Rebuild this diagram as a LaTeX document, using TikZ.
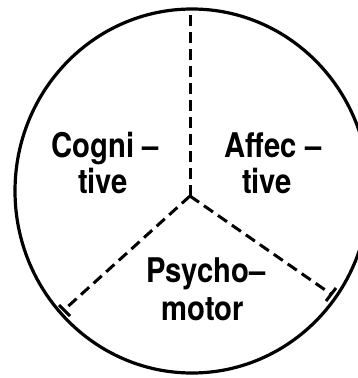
\documentclass[tikz,border=0pt]{standalone}
\usepackage{fontspec}
\setmainfont{TeX Gyre Heros}
\begin{document}
\begin{tikzpicture}[x=1pt,y=-1pt,
  ringline/.style={line width=3.2pt},
  divider/.style={line width=3pt, dash pattern=on 11pt off 6pt, line join=round},
  endtick/.style={line width=3pt},
  lbl/.style={font=\fontsize{34}{36}\selectfont\bfseries, inner sep=0pt, anchor=base, xscale=0.86}]
\useasboundingbox (0,0) rectangle (358,378);
\clip (0,0) rectangle (358,378);
\fill[white] (0,0) rectangle (358,378);
% outer circle
\draw[ringline] (192,191) ellipse [x radius=177, y radius=182];
% junction and ends
\coordinate (ctr) at (190,196);
\coordinate (topend) at (190,10);
\coordinate (leftend) at (64,310);
\coordinate (rightend) at (331,294);
\coordinate (lt1) at (70,316);
\coordinate (lt2) at (59,305);
\coordinate (rt1) at (326,301);
\coordinate (rt2) at (336,288);
% dashed dividers
\draw[divider] (ctr) -- (topend);
\draw[divider] (ctr) -- (leftend);
\draw[divider] (ctr) -- (rightend);
\draw[endtick] (lt1) -- (lt2);
\draw[endtick] (rt1) -- (rt2);
% labels
\node[lbl] (cog1) at (105,157) {Cogni --};
\node[lbl] (cog2) at (103,193) {tive};
\node[lbl] (aff1) at (273,157) {Affec --};
\node[lbl] (aff2) at (267,193) {tive};
\node[lbl] (psy1) at (206,282) {Psycho--};
\node[lbl] (psy2) at (203,320) {motor};
\end{tikzpicture}
\end{document}
